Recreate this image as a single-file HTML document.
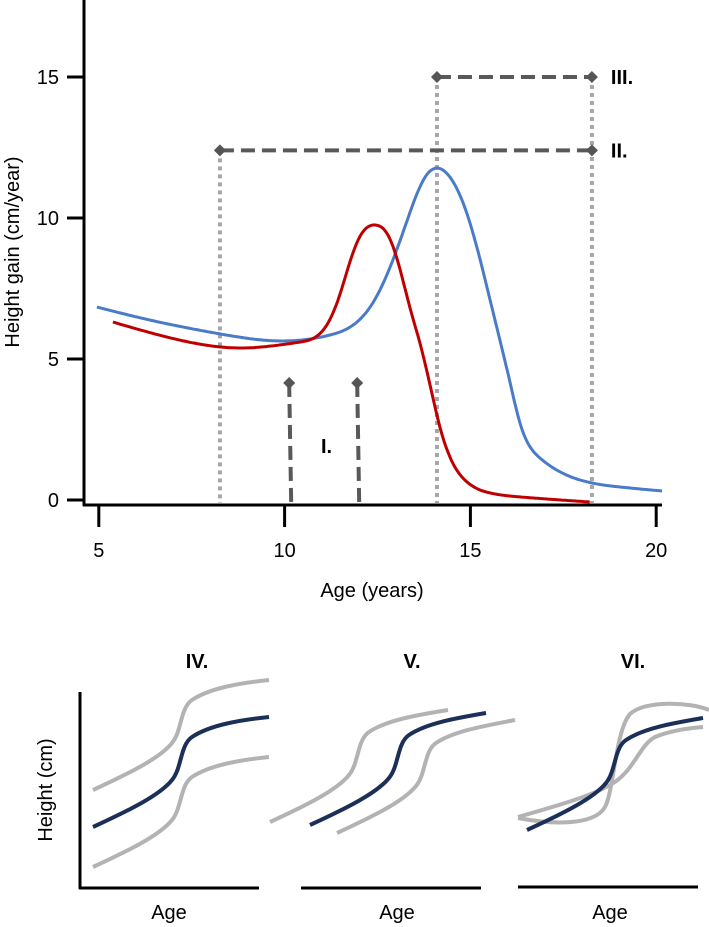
<!DOCTYPE html>
<html><head><meta charset="utf-8"><style>
html,body{margin:0;padding:0;background:#fff;}
svg{display:block;font-family:"Liberation Sans",Arial,sans-serif;}
</style></head><body>
<svg id="chart" width="709" height="927" viewBox="0 0 709 927" xmlns="http://www.w3.org/2000/svg">
<g id="main"></g>
<g id="panels">
  <text x="197" y="668" font-size="20" font-weight="bold" text-anchor="middle">IV.</text>
  <line x1="80" y1="692" x2="80" y2="889" stroke="#000" stroke-width="3"/>
  <line x1="79" y1="888" x2="259" y2="888" stroke="#000" stroke-width="3"/>
  <path d="M93,790 c37,-17 67,-32 79,-47 c10,-12 8,-35 20,-43 c18,-12 48,-17 77,-20" fill="none" stroke="#b3b3b3" stroke-width="4"/>
  <path d="M93,827 c37,-17 67,-32 79,-47 c10,-12 8,-35 20,-43 c18,-12 48,-17 77,-20" fill="none" stroke="#1b2f57" stroke-width="4"/>
  <path d="M93,867 c37,-17 67,-32 79,-47 c10,-12 8,-35 20,-43 c18,-12 48,-17 77,-20" fill="none" stroke="#b3b3b3" stroke-width="4"/>
  <text x="169" y="919" font-size="20" text-anchor="middle">Age</text>
  <text transform="translate(52,790) rotate(-90)" font-size="20" text-anchor="middle">Height (cm)</text>
  <text x="412" y="668" font-size="20" font-weight="bold" text-anchor="middle">V.</text>
  <line x1="301" y1="888" x2="481" y2="888" stroke="#000" stroke-width="3"/>
  <path d="M270,822 c37,-17 67,-32 79,-47 c10,-12 8,-35 20,-43 c18,-12 48,-17 79,-22" fill="none" stroke="#b3b3b3" stroke-width="4"/>
  <path d="M310,825 c37,-17 67,-32 79,-47 c10,-12 8,-35 20,-43 c18,-12 48,-17 77,-22" fill="none" stroke="#1b2f57" stroke-width="4"/>
  <path d="M337,833 c37,-17 67,-32 79,-47 c10,-12 8,-35 20,-43 c18,-12 48,-17 79,-23" fill="none" stroke="#b3b3b3" stroke-width="4"/>
  <text x="397" y="919" font-size="20" text-anchor="middle">Age</text>
  <text x="633" y="668" font-size="20" font-weight="bold" text-anchor="middle">VI.</text>
  <line x1="518" y1="887" x2="698" y2="887" stroke="#000" stroke-width="3"/>
  <path d="M518,818 C560,826 598,824 606,805 C614,786 616,730 630,714 C645,700 690,702 709,710" fill="none" stroke="#b3b3b3" stroke-width="4"/>
  <path d="M518,817 C560,805 595,795 615,782 C635,768 640,745 655,737 C672,730 690,728 703,727" fill="none" stroke="#b3b3b3" stroke-width="4"/>
  <path d="M527,830 c37,-17 67,-32 79,-47 c10,-12 8,-35 20,-43 c18,-12 48,-17 77,-22" fill="none" stroke="#1b2f57" stroke-width="4"/>
  <text x="610" y="919" font-size="20" text-anchor="middle">Age</text>
</g>
</svg>
<script>
const blueAges=[4.95,6.38,8.26,9.88,11.22,11.76,12.30,12.84,13.37,13.78,14.10,14.45,14.99,15.53,16.07,16.33,16.87,17.95,19.03,20.16];
const blueValues=[6.84,6.38,5.89,5.64,5.85,6.13,6.84,8.26,10.18,11.45,11.77,11.45,9.82,7.09,4.15,2.75,1.49,0.71,0.46,0.32];
const redAges=[5.38,7.18,8.80,9.88,10.41,10.95,11.22,11.49,11.76,12.03,12.46,12.78,13.11,13.37,13.64,13.91,14.18,14.45,14.85,15.53,16.33,18.21];
const redValues=[6.31,5.67,5.39,5.50,5.60,5.90,6.40,7.30,8.45,9.35,9.75,9.40,8.16,6.84,5.57,4.10,2.59,1.52,0.71,0.25,0.11,-0.07];
const xTicks=[5,10,15,20];
const yTicks=[0,5,10,15];
const intervalII=[8.26,18.27,12.4];
const intervalIII=[14.1,18.27,15.0];
const markerIAges=[10.15,11.98];
const markerITop=4.15;

const NS="http://www.w3.org/2000/svg";
const g=document.getElementById('main');
const X=v=>377.5+(v-12.5)*37.16;
const Y=v=>500-28.2*v;
function el(tag,attrs,parent){const e=document.createElementNS(NS,tag);for(const k in attrs)e.setAttribute(k,attrs[k]);(parent||g).appendChild(e);return e;}
// natural cubic spline through data, sampled densely
function spline(xs,ys){
  const n=xs.length,h=[],al=[],l=[1],mu=[0],z=[0],c=new Array(n).fill(0),b=[],d=[];
  for(let i=0;i<n-1;i++)h.push(xs[i+1]-xs[i]);
  for(let i=1;i<n-1;i++)al[i]=3/h[i]*(ys[i+1]-ys[i])-3/h[i-1]*(ys[i]-ys[i-1]);
  for(let i=1;i<n-1;i++){l[i]=2*(xs[i+1]-xs[i-1])-h[i-1]*mu[i-1];mu[i]=h[i]/l[i];z[i]=(al[i]-h[i-1]*z[i-1])/l[i];}
  for(let j=n-2;j>=0;j--){c[j]=(z[j]||0)-(mu[j]||0)*c[j+1];b[j]=(ys[j+1]-ys[j])/h[j]-h[j]*(c[j+1]+2*c[j])/3;d[j]=(c[j+1]-c[j])/(3*h[j]);}
  let pts=[];
  for(let j=0;j<n-1;j++){
    const steps=Math.max(4,Math.ceil(h[j]*37/2));
    for(let s=0;s<steps;s++){const t=h[j]*s/steps;const v=ys[j]+b[j]*t+c[j]*t*t+d[j]*t*t*t;pts.push([X(xs[j]+t),Y(v)]);}
  }
  pts.push([X(xs[n-1]),Y(ys[n-1])]);
  return 'M'+pts.map(p=>p[0].toFixed(1)+','+p[1].toFixed(1)).join(' L');
}
function diamond(cx,cy,name){
  const e=el('path',{d:`M${cx},${cy-6} L${cx+6},${cy} L${cx},${cy+6} L${cx-6},${cy} Z`,fill:'#555'});
  
  
}
let a=el('line',{x1:84,y1:0,x2:84,y2:506,stroke:'#000','stroke-width':3});


a=el('line',{x1:83,y1:505,x2:662,y2:505,stroke:'#000','stroke-width':3});


yTicks.forEach(v=>{
  const t=el('line',{x1:67,y1:Y(v),x2:84,y2:Y(v),stroke:'#000','stroke-width':3});
  
  
  const l=el('text',{x:59,y:Y(v)+7,'font-size':20,'text-anchor':'end'});l.textContent=v;
  
  
});
xTicks.forEach(v=>{
  const t=el('line',{x1:X(v),y1:505,x2:X(v),y2:527,stroke:'#000','stroke-width':3});
  
  
  const l=el('text',{x:X(v),y:557,'font-size':20,'text-anchor':'middle'});l.textContent=v;
  
  
});
let t=el('text',{x:372,y:597,'font-size':20,'text-anchor':'middle'});t.textContent='Age (years)';


t=el('text',{transform:'translate(19,252) rotate(-90)','font-size':20,'text-anchor':'middle'});t.textContent='Height gain (cm/year)';


[[intervalII[0],intervalII[2]],[intervalIII[0],intervalIII[2]],[intervalII[1],intervalIII[2]]].forEach(([ax,top])=>{
  const d=el('line',{x1:X(ax),y1:Y(top),x2:X(ax),y2:503,stroke:'#a6a6a6','stroke-width':4,'stroke-dasharray':'4 4'});
  
  
});
let c=el('path',{d:spline(blueAges,blueValues),fill:'none',stroke:'#4a7bc8','stroke-width':3,'stroke-linejoin':'round'});


c=el('path',{d:spline(redAges,redValues),fill:'none',stroke:'#c00000','stroke-width':3,'stroke-linejoin':'round'});


[[intervalII,'interval-ii','II.'],[intervalIII,'interval-iii','III.']].forEach(([iv,name,lab])=>{
  const l=el('line',{x1:X(iv[0]),y1:Y(iv[2]),x2:X(iv[1]),y2:Y(iv[2]),stroke:'#595959','stroke-width':4,'stroke-dasharray':'14 7'});
  
  
  diamond(X(iv[0]),Y(iv[2]),name+'-start');
  diamond(X(iv[1]),Y(iv[2]),name+'-end');
  const tx=el('text',{x:X(iv[1])+19,y:Y(iv[2])+7,'font-size':20,'font-weight':'bold'});tx.textContent=lab;
  
  
});
markerIAges.forEach(ax=>{
  const l=el('line',{x1:X(ax)-1,y1:Y(markerITop),x2:X(ax)+1,y2:502,stroke:'#595959','stroke-width':4,'stroke-dasharray':'14 7'});
  
  
  diamond(X(ax)-1,Y(markerITop),'marker-i-diamond');
});
t=el('text',{x:321,y:453,'font-size':20,'font-weight':'bold'});t.textContent='I.';


</script>
</body></html>
